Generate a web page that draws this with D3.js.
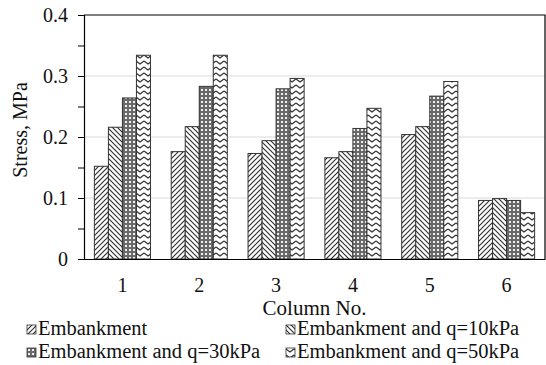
<!DOCTYPE html>
<html><head><meta charset="utf-8">
<script src="https://cdn.jsdelivr.net/npm/d3@7"></script>
<style>body{margin:0;background:#fff;} svg{display:block;} text{font-family:"Liberation Serif","Times New Roman",serif;fill:#111;}</style>
</head><body><svg id="c" width="546" height="365"></svg>
<script>
const categories = ["1","2","3","4","5","6"];
const seriesNames = ["Embankment","Embankment and q=10kPa","Embankment and q=30kPa","Embankment and q=50kPa"];
const embankment = [0.152,0.176,0.173,0.166,0.204,0.096];
const q10 = [0.216,0.217,0.194,0.176,0.217,0.099];
const q30 = [0.264,0.283,0.279,0.214,0.267,0.096];
const q50 = [0.334,0.334,0.296,0.247,0.291,0.076];
const yTicks = [0,0.1,0.2,0.3,0.4];
const yMinorTicks = [0,0.05,0.1,0.15,0.2,0.25,0.3,0.35,0.4];
const series = [embankment,q10,q30,q50];

const svg = d3.select("#c");
const m = {l:84, r:545, t:15, b:259};
const defs = svg.append("defs");
const p0 = defs.append("pattern").attr("id","p0").attr("patternUnits","userSpaceOnUse").attr("width",5).attr("height",5);
p0.append("rect").attr("width",5).attr("height",5).attr("fill","#fff");
p0.append("path").attr("d","M0,5L5,0M-2,2L2,-2M3,7L7,3").attr("stroke","#333").attr("stroke-width",1.2);
const p1 = defs.append("pattern").attr("id","p1").attr("patternUnits","userSpaceOnUse").attr("width",5).attr("height",5);
p1.append("rect").attr("width",5).attr("height",5).attr("fill","#fff");
p1.append("path").attr("d","M0,0L5,5M-2,3L2,7M3,-2L7,2").attr("stroke","#333").attr("stroke-width",1.2);
const p2 = defs.append("pattern").attr("id","p2").attr("patternUnits","userSpaceOnUse").attr("width",4).attr("height",4);
p2.append("rect").attr("width",4).attr("height",4).attr("fill","#6a6a6a");
p2.append("rect").attr("x",1).attr("y",1).attr("width",2).attr("height",2).attr("fill","#f0f0f0");
const p3 = defs.append("pattern").attr("id","p3").attr("patternUnits","userSpaceOnUse").attr("width",8).attr("height",6);
p3.append("rect").attr("width",8).attr("height",6).attr("fill","#fff");
p3.append("path").attr("d","M0,1L4,4L8,1").attr("stroke","#333").attr("stroke-width",1.3).attr("fill","none");
const fills = ["url(#p0)","url(#p1)","url(#p2)","url(#p3)"];

const x0 = d3.scaleBand().domain(categories).range([m.l,m.r]).paddingInner(0.27).paddingOuter(0.135);
const x1 = d3.scaleBand().domain(d3.range(4)).range([0,x0.bandwidth()]);
const y = d3.scaleLinear().domain([0,0.4]).range([m.b,m.t]);

svg.append("g").selectAll("line").data(yTicks.filter(d=>d>0&&d<0.4)).join("line")
  .attr("x1",m.l).attr("x2",m.r).attr("y1",d=>y(d)).attr("y2",d=>y(d))
  .attr("stroke","#d9d9d9").attr("stroke-width",1);

categories.forEach((c,i)=>{
  svg.append("g").selectAll("rect").data(series.map((s,k)=>({k,v:s[i]}))).join("rect")
    .attr("x",d=>x0(c)+x1(d.k)).attr("width",x1.bandwidth())
    .attr("y",d=>y(d.v)).attr("height",d=>y(0)-y(d.v))
    .attr("fill",d=>fills[d.k]).attr("stroke","#333").attr("stroke-width",1);
});

svg.append("path").attr("d",`M${m.l},${m.t}H${m.r}V${m.b}`).attr("fill","none").attr("stroke","#000").attr("stroke-width",1.2);

const ya = svg.append("g").attr("transform",`translate(${m.l},0)`)
  .call(d3.axisLeft(y).tickValues(yMinorTicks).tickSize(6).tickFormat(""));
ya.select(".domain").attr("stroke","#000").attr("stroke-width",1.2);
ya.selectAll(".tick line").attr("stroke","#000");
svg.append("g").selectAll("text").data(yTicks).join("text")
  .attr("x",m.l-16).attr("y",d=>y(d)).attr("dy","0.35em").attr("text-anchor","end")
  .attr("font-size",20).text(d=>d===0?"0":d3.format(".1f")(d));

const xa = svg.append("g").attr("transform",`translate(0,${m.b})`)
  .call(d3.axisBottom(x0).tickSize(0).tickPadding(19));
xa.select(".domain").attr("stroke","#000").attr("stroke-width",1.2);
xa.selectAll("text").attr("font-size",20).attr("font-family","Liberation Serif").attr("fill","#111");

svg.append("text").attr("x",(m.l+m.r)/2).attr("y",315).attr("text-anchor","middle").attr("font-size",21).text("Column No.");
svg.append("text").attr("transform",`translate(27,130) rotate(-90)`).attr("text-anchor","middle").attr("font-size",20).text("Stress, MPa");

const legPos = [[27,325],[286,325],[27,348],[286,348]];
const lg = svg.append("g").selectAll("g").data(seriesNames).join("g")
  .attr("transform",(d,i)=>`translate(${legPos[i][0]},${legPos[i][1]})`);
lg.append("rect").attr("width",9).attr("height",9).attr("fill",(d,i)=>fills[i]).attr("stroke","#333").attr("stroke-width",0.8);
lg.append("text").attr("x",11).attr("y",10).attr("font-size",20.5).text(d=>d);
</script></body></html>
